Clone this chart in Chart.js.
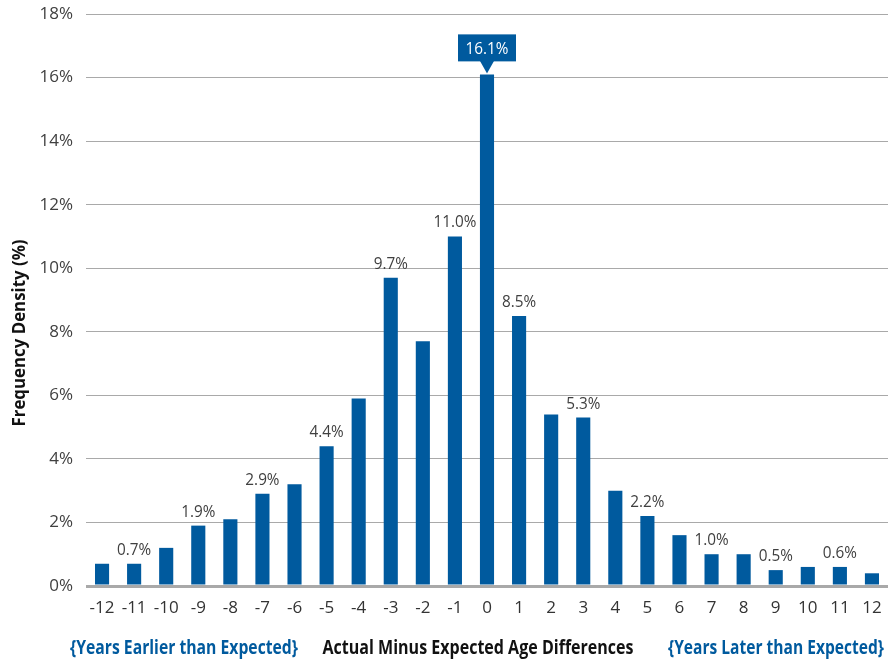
<!DOCTYPE html>
<html>
<head>
<meta charset="utf-8">
<script src="https://cdn.jsdelivr.net/npm/chart.js@4.4.1/dist/chart.umd.min.js"></script>
<style>
  html, body { margin: 0; padding: 0; background: #ffffff; }
  #wrap { width: 894px; height: 660px; position: relative; }
</style>
</head>
<body>
<div id="wrap"><canvas id="c" width="894" height="660"></canvas></div>
<script>
const categories = ['-12','-11','-10','-9','-8','-7','-6','-5','-4','-3','-2','-1','0','1','2','3','4','5','6','7','8','9','10','11','12'];
const frequency = [0.7, 0.7, 1.2, 1.9, 2.1, 2.9, 3.2, 4.4, 5.9, 9.7, 7.7, 11.0, 16.1, 8.5, 5.4, 5.3, 3.0, 2.2, 1.6, 1.0, 1.0, 0.5, 0.6, 0.6, 0.4];
const labeledCategories = ['-11','-9','-7','-5','-3','-1','1','3','5','7','9','11'];
const calloutCategory = '0';
const yTitle = 'Frequency Density (%)';
const xTitle = 'Actual Minus Expected Age Differences';
const leftNote = '{Years Earlier than Expected}';
const rightNote = '{Years Later than Expected}';

const FONT = '"Open Sans", "Liberation Sans", sans-serif';
const BLUE = '#005a9e';
const TEXT = '#404040';

Chart.defaults.font.family = FONT;

// draw text condensed horizontally, either by a fixed factor or to a target width
function condText(ctx, txt, cx, cy, s) {
  ctx.save();
  ctx.translate(cx, cy);
  ctx.scale(s, 1);
  ctx.fillText(txt, 0, 0);
  ctx.restore();
}
function fitText(ctx, txt, cx, cy, targetW) {
  const w = ctx.measureText(txt).width;
  condText(ctx, txt, cx, cy, Math.min(1, targetW / w));
}

const labelPlugin = {
  id: 'labels',
  afterDatasetsDraw(chart) {
    const ctx = chart.ctx;
    const meta = chart.getDatasetMeta(0);
    ctx.save();
    ctx.font = '17px ' + FONT;
    ctx.textAlign = 'center';
    ctx.textBaseline = 'alphabetic';
    categories.forEach((cat, i) => {
      const el = meta.data[i];
      const txt = frequency[i].toFixed(1) + '%';
      if (labeledCategories.includes(cat)) {
        ctx.fillStyle = TEXT;
        condText(ctx, txt, el.x, el.y - 9, 0.9);
      } else if (cat === calloutCategory) {
        const w = 58, h = 27, gap = 13;
        const bx = el.x - w / 2, by = el.y - gap - h;
        ctx.fillStyle = BLUE;
        ctx.fillRect(bx, by, w, h);
        ctx.beginPath();
        ctx.moveTo(el.x - 7, by + h - 0.5);
        ctx.lineTo(el.x + 7, by + h - 0.5);
        ctx.lineTo(el.x, el.y - 1);
        ctx.closePath();
        ctx.fill();
        ctx.fillStyle = '#ffffff';
        ctx.textBaseline = 'middle';
        condText(ctx, txt, el.x, by + h / 2 + 1, 0.9);
        ctx.textBaseline = 'alphabetic';
      }
    });
    ctx.restore();
  },
  afterDraw(chart) {
    const ctx = chart.ctx;
    ctx.save();
    ctx.translate(20, 333);
    ctx.rotate(-Math.PI / 2);
    ctx.font = 'bold 17px ' + FONT;
    ctx.fillStyle = '#111111';
    ctx.textAlign = 'center';
    ctx.textBaseline = 'middle';
    fitText(ctx, yTitle, 0, 0, 187);
    ctx.restore();

    ctx.save();
    ctx.font = 'bold 19px ' + FONT;
    ctx.textAlign = 'center';
    ctx.textBaseline = 'middle';
    ctx.fillStyle = BLUE;
    fitText(ctx, leftNote, 184, 649, 228);
    fitText(ctx, rightNote, 776, 649, 216);
    ctx.fillStyle = '#111111';
    fitText(ctx, xTitle, 478, 649, 311);
    ctx.restore();
  }
};

new Chart(document.getElementById('c'), {
  type: 'bar',
  data: {
    labels: categories,
    datasets: [{
      data: frequency,
      backgroundColor: BLUE,
      borderWidth: 0,
      barPercentage: 0.44,
      categoryPercentage: 1.0
    }]
  },
  options: {
    responsive: false,
    animation: false,
    layout: { padding: { left: 0, right: 6, top: 14, bottom: 0 } },
    plugins: { legend: { display: false }, tooltip: { enabled: false } },
    scales: {
      x: {
        grid: { display: false, drawTicks: false },
        border: { display: false },
        ticks: { color: '#333333', font: { size: 17 }, padding: 12, maxRotation: 0, autoSkip: false },
        afterFit(scale) { scale.height = 74; scale.paddingLeft = 0; scale.paddingRight = 0; }
      },
      y: {
        min: 0, max: 18,
        grid: {
          color: '#a9a9a9',
          lineWidth: (c) => (c.tick && c.tick.value === 0 ? 3 : 1),
          drawTicks: false
        },
        border: { display: false },
        ticks: { stepSize: 2, color: '#404040', font: { size: 17 }, padding: 13, callback: (v) => v + '%' },
        afterFit(scale) { scale.width = 86; scale.paddingTop = 0; scale.paddingBottom = 0; }
      }
    }
  },
  plugins: [labelPlugin]
});
</script>
</body>
</html>
